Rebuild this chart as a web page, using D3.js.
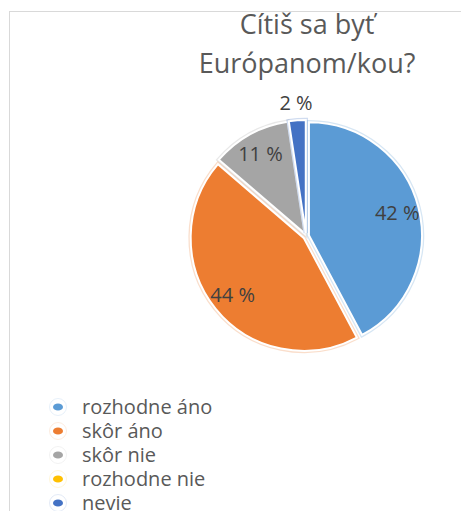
<!DOCTYPE html>
<html>
<head>
<meta charset="utf-8">
<script src="https://cdn.jsdelivr.net/npm/d3@7"></script>
<style>
  body { margin: 0; background: #fff; }
  svg { display: block; font-family: "Open Sans", "Noto Sans", sans-serif; }
</style>
</head>
<body>
<svg id="chart" width="461" height="511"></svg>
<script>
// data
const categories = ["rozhodne áno", "skôr áno", "skôr nie", "rozhodne nie", "nevie"];
const values = [42.2, 44.1, 11.3, 0, 2.4];
const labels = ["42 %", "44 %", "11 %", "", "2 %"];
const colors = ["#5b9bd5", "#ed7d31", "#a5a5a5", "#ffc000", "#4472c4"];

const svg = d3.select("#chart");

// chart frame
svg.append("rect")
    .attr("x", 9.5).attr("y", 11.5)
    .attr("width", 470).attr("height", 520)
    .attr("fill", "none")
    .attr("stroke", "#d9d9d9");

// title
const title = svg.append("text")
    .attr("text-anchor", "middle")
    .attr("fill", "#595959")
    .style("font-size", "27px");
title.append("tspan").attr("x", 307).attr("y", 34).text("Cítiš sa byť");
title.append("tspan").attr("x", 307).attr("y", 73).text("Európanom/kou?");

// pie
const cx = 306, cy = 236, radius = 113, explode = 3;
const pie = d3.pie().sort(null).value(d => d);
const arcs = pie(values);
const arc = d3.arc().innerRadius(0).outerRadius(radius);

const g = svg.append("g").attr("transform", `translate(${cx},${cy})`);

const slices = g.selectAll("g.slice")
    .data(arcs.filter(d => d.value > 0))
    .enter().append("g")
    .attr("class", "slice")
    .attr("transform", d => {
        const a = (d.startAngle + d.endAngle) / 2;
        return `translate(${Math.sin(a) * explode},${-Math.cos(a) * explode})`;
    });

// faint outer fringe
slices.append("path")
    .attr("d", arc)
    .attr("fill", "none")
    .attr("stroke", (d) => colors[d.index])
    .attr("stroke-opacity", 0.25)
    .attr("stroke-width", 4.5);

slices.append("path")
    .attr("d", arc)
    .attr("fill", d => colors[d.index])
    .attr("stroke", "#fff")
    .attr("stroke-width", 2);

// data labels
g.selectAll("text.lbl")
    .data(arcs.filter(d => d.value > 0))
    .enter().append("text")
    .attr("class", "lbl")
    .attr("text-anchor", "middle")
    .attr("dy", "0.35em")
    .attr("fill", "#404040")
    .style("font-size", "20px")
    .attr("x", d => {
        const a = (d.startAngle + d.endAngle) / 2;
        const r = d.value < 5 ? radius + 20 : radius - 19;
        return Math.sin(a) * r;
    })
    .attr("y", d => {
        const a = (d.startAngle + d.endAngle) / 2;
        const r = d.value < 5 ? radius + 20 : radius - 19;
        return -Math.cos(a) * r;
    })
    .text(d => labels[d.index]);

// legend
const legendY = d3.scalePoint().domain(categories).range([407, 503]);

const legend = svg.append("g").selectAll("g")
    .data(categories)
    .enter().append("g")
    .attr("transform", d => `translate(58,${legendY(d)})`);

legend.append("circle")
    .attr("r", 8.5)
    .attr("fill", "#fff")
    .attr("stroke", (d, i) => colors[i])
    .attr("stroke-opacity", 0.15);

legend.append("ellipse")
    .attr("rx", 5).attr("ry", 3.6)
    .attr("fill", (d, i) => colors[i]);

legend.append("text")
    .attr("x", 24)
    .attr("dy", "0.35em")
    .attr("fill", "#595959")
    .style("font-size", "20px")
    .text(d => d);
</script>
</body>
</html>
